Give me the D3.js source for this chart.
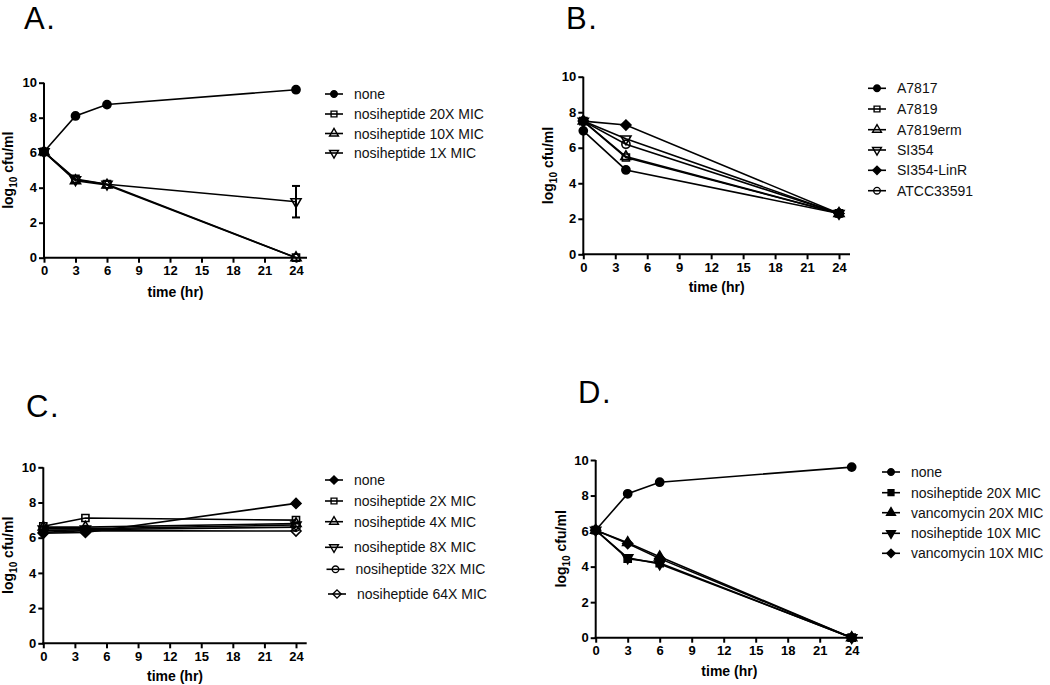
<!DOCTYPE html>
<html><head><meta charset="utf-8">
<script src="https://cdn.jsdelivr.net/npm/d3@7"></script>
<style>body{margin:0;background:#fff}svg{display:block}</style>
</head><body>
<svg id="c" width="1050" height="685"></svg>
<script>
// ---------- shared ticks ----------
const xTicks = [0, 3, 6, 9, 12, 15, 18, 21, 24];
const yTicks = [0, 2, 4, 6, 8, 10];

// ---------- Panel A ----------
const timesA = [0, 3, 6, 24];
const namesA = ["none", "nosiheptide 20X MIC", "nosiheptide 10X MIC", "nosiheptide 1X MIC"];
const A_none   = [6.05, 8.1, 8.75, 9.6];
const A_nosi20 = [6.05, 4.5, 4.2, 0];
const A_nosi10 = [6.05, 4.4, 4.15, 0];
const A_nosi1  = [6.05, 4.45, 4.2, 3.2];
const A_nosi1_errLow  = [null, null, null, 2.3];
const A_nosi1_errHigh = [null, null, null, 4.1];

// ---------- Panel B ----------
const timesB = [0, 4, 24];
const namesB = ["A7817", "A7819", "A7819erm", "SI354", "SI354-LinR", "ATCC33591"];
const B_A7817    = [6.95, 4.75, 2.3];
const B_A7819    = [7.5, 5.45, 2.3];
const B_A7819erm = [7.5, 5.5, 2.3];
const B_SI354    = [7.5, 6.5, 2.3];
const B_SI354Lin = [7.5, 7.28, 2.3];
const B_ATCC     = [7.5, 6.2, 2.3];

// ---------- Panel C ----------
const timesC = [0, 4, 24];
const namesC = ["none", "nosiheptide 2X MIC", "nosiheptide 4X MIC", "nosiheptide 8X MIC", "nosiheptide 32X MIC", "nosiheptide 64X MIC"];
const C_none   = [6.25, 6.3, 7.95];
const C_nosi2  = [6.65, 7.12, 7.0];
const C_nosi4  = [6.6, 6.6, 6.8];
const C_nosi8  = [6.5, 6.5, 6.72];
const C_nosi32 = [6.4, 6.45, 6.6];
const C_nosi64 = [6.3, 6.4, 6.38];

// ---------- Panel D ----------
const timesD = [0, 3, 6, 24];
const namesD = ["none", "nosiheptide 20X MIC", "vancomycin 20X MIC", "nosiheptide 10X MIC", "vancomycin 10X MIC"];
const D_none    = [6.05, 8.1, 8.75, 9.6];
const D_nosi20  = [6.05, 4.45, 4.2, 0];
const D_vanco20 = [6.05, 5.35, 4.55, 0];
const D_nosi10  = [6.05, 4.5, 4.15, 0];
const D_vanco10 = [6.05, 5.3, 4.45, 0];

// ---------- symbols ----------
const triDown = {draw(ctx, size){ const s=Math.sqrt(size/ (Math.sqrt(3)/4)); const h=s*Math.sqrt(3)/2;
  ctx.moveTo(-s/2,-h/3); ctx.lineTo(s/2,-h/3); ctx.lineTo(0,2*h/3); ctx.closePath(); }};
const triUp = {draw(ctx, size){ const s=Math.sqrt(size/ (Math.sqrt(3)/4)); const h=s*Math.sqrt(3)/2;
  ctx.moveTo(-s/2,h/3); ctx.lineTo(s/2,h/3); ctx.lineTo(0,-2*h/3); ctx.closePath(); }};
const diamond = {draw(ctx, size){ const r=Math.sqrt(size/2); ctx.moveTo(0,-r); ctx.lineTo(r,0); ctx.lineTo(0,r); ctx.lineTo(-r,0); ctx.closePath(); }};
const SYM = {circle: d3.symbolCircle, square: d3.symbolSquare, tri: triUp, tridown: triDown, diamond: diamond};

const svg = d3.select("#c");
const FONT = "'Liberation Sans', Arial, Helvetica, sans-serif";

function panel(cfg) {
  const g = svg.append("g");
  const x = d3.scaleLinear().domain([0, 24]).range([cfg.x0, cfg.x24]);
  const y = d3.scaleLinear().domain([0, 10]).range([cfg.y0, cfg.y10]);

  g.append("text").attr("x", cfg.titleX).attr("y", cfg.titleY)
    .style("font-family", FONT).style("font-size", "31px").style("letter-spacing", "1.5px").text(cfg.title);

  // axes
  const xa = g.append("g").attr("transform", `translate(0,${cfg.y0})`)
    .call(d3.axisBottom(x).tickValues(xTicks).tickSize(5).tickPadding(3).tickFormat(d3.format("d")));
  xa.select(".domain").remove();
  xa.append("line").attr("x1", x(0) - 1).attr("x2", cfg.xEnd).attr("y1", 0).attr("y2", 0)
    .attr("stroke", "#000").attr("stroke-width", 2);
  const ya = g.append("g").attr("transform", `translate(${cfg.x0},0)`)
    .call(d3.axisLeft(y).tickValues(yTicks).tickSize(5).tickPadding(2).tickFormat(d3.format("d")));
  ya.select(".domain").remove();
  ya.append("line").attr("x1", 0).attr("x2", 0).attr("y1", y(0) + 1).attr("y2", y(10))
    .attr("stroke", "#000").attr("stroke-width", 2);
  [xa, ya].forEach(a => {
    a.selectAll(".tick line").attr("stroke-width", 2);
    a.selectAll("text").style("font-family", FONT).style("font-size", "13px").style("font-weight", "bold").attr("fill", "#000");
  });

  // axis titles
  g.append("text").attr("x", (cfg.x0 + cfg.xEnd) / 2).attr("y", cfg.xlabY)
    .attr("text-anchor", "middle").style("font-family", FONT).style("font-size", "14px").style("font-weight", "bold")
    .text("time (hr)");
  const yl = g.append("text").attr("transform", `translate(${cfg.ylabX},${(cfg.y0 + cfg.y10) / 2}) rotate(-90)`)
    .attr("text-anchor", "middle").style("font-family", FONT).style("font-size", "14px").style("font-weight", "bold");
  yl.append("tspan").text("log");
  yl.append("tspan").attr("dy", 4).style("font-size", "10px").text("10");
  yl.append("tspan").attr("dy", -4).text(" cfu/ml");

  const line = d3.line().x(d => x(d[0])).y(d => y(d[1]));
  cfg.series.forEach(s => {
    const pts = s.times.map((t, i) => [t, s.values[i]]);
    g.append("path").attr("d", line(pts)).attr("fill", "none").attr("stroke", "#000").attr("stroke-width", 1.6);
  });
  // error bars
  cfg.series.forEach(s => {
    if (!s.lo) return;
    s.times.forEach((t, i) => {
      if (s.lo[i] == null) return;
      const cx = x(t);
      g.append("line").attr("x1", cx).attr("x2", cx).attr("y1", y(s.lo[i])).attr("y2", y(s.hi[i])).attr("stroke", "#000").attr("stroke-width", 2);
      [s.lo[i], s.hi[i]].forEach(v => g.append("line").attr("x1", cx - 4).attr("x2", cx + 4).attr("y1", y(v)).attr("y2", y(v)).attr("stroke", "#000").attr("stroke-width", 2));
    });
  });
  cfg.series.forEach(s => {
    const sym = d3.symbol().type(SYM[s.sym]).size(s.size || 52);
    s.times.forEach((t, i) => {
      g.append("path").attr("d", sym()).attr("transform", `translate(${x(t)},${y(s.values[i])})`)
        .attr("fill", s.filled ? "#000" : "none").attr("stroke", "#000").attr("stroke-width", 1.6);
    });
  });

  // legend
  cfg.series.forEach((s, i) => {
    const ly = cfg.leg.ys[i];
    const mx = cfg.leg.mx + (cfg.leg.dx ? cfg.leg.dx[i] : 0);
    g.append("line").attr("x1", mx - 9).attr("x2", mx + 9).attr("y1", ly).attr("y2", ly).attr("stroke", "#000").attr("stroke-width", 1.6);
    const sym = d3.symbol().type(SYM[s.sym]).size(34);
    g.append("path").attr("d", sym()).attr("transform", `translate(${mx},${ly})`)
      .attr("fill", s.filled ? "#000" : "none").attr("stroke", "#000").attr("stroke-width", 1.4);
    g.append("text").attr("x", cfg.leg.tx + (cfg.leg.dx ? cfg.leg.dx[i] : 0)).attr("y", ly + 5)
      .style("font-family", FONT).style("font-size", "14px").attr("fill", "#111").text(s.name);
  });
}

panel({
  title: "A.", titleX: 24, titleY: 29,
  x0: 44, x24: 296, xEnd: 307, y0: 257.7, y10: 82.7, xlabY: 297, ylabX: 13,
  leg: {mx: 334, tx: 354, ys: [94, 114, 133.5, 153]},
  series: [
    {name: namesA[0], times: timesA, values: A_none, sym: "circle", filled: true},
    {name: namesA[1], times: timesA, values: A_nosi20, sym: "square", filled: false, size: 50},
    {name: namesA[2], times: timesA, values: A_nosi10, sym: "tri", filled: false, size: 44},
    {name: namesA[3], times: timesA, values: A_nosi1, sym: "tridown", filled: false, size: 44, lo: A_nosi1_errLow, hi: A_nosi1_errHigh}
  ]
});

panel({
  title: "B.", titleX: 566, titleY: 29,
  x0: 583.3, x24: 839, xEnd: 850, y0: 254.3, y10: 76.7, xlabY: 292, ylabX: 553,
  leg: {mx: 877, tx: 897, ys: [88.3, 109, 129.7, 150, 170.3, 190.7]},
  series: [
    {name: namesB[0], times: timesB, values: B_A7817, sym: "circle", filled: true},
    {name: namesB[1], times: timesB, values: B_A7819, sym: "square", filled: false, size: 50},
    {name: namesB[2], times: timesB, values: B_A7819erm, sym: "tri", filled: false, size: 44},
    {name: namesB[3], times: timesB, values: B_SI354, sym: "tridown", filled: false, size: 44},
    {name: namesB[4], times: timesB, values: B_SI354Lin, sym: "diamond", filled: true, size: 50},
    {name: namesB[5], times: timesB, values: B_ATCC, sym: "circle", filled: false}
  ]
});

panel({
  title: "C.", titleX: 26, titleY: 417,
  x0: 43.3, x24: 296, xEnd: 306.7, y0: 643.3, y10: 467.3, xlabY: 681, ylabX: 13,
  leg: {mx: 334, tx: 354, dx: [0, 0, 0, 0, 1.5, 3], ys: [480, 501, 521.7, 547.3, 569.3, 594]},
  series: [
    {name: namesC[0], times: timesC, values: C_none, sym: "diamond", filled: true, size: 50},
    {name: namesC[1], times: timesC, values: C_nosi2, sym: "square", filled: false, size: 50},
    {name: namesC[2], times: timesC, values: C_nosi4, sym: "tri", filled: false, size: 44},
    {name: namesC[3], times: timesC, values: C_nosi8, sym: "tridown", filled: false, size: 44},
    {name: namesC[4], times: timesC, values: C_nosi32, sym: "circle", filled: false},
    {name: namesC[5], times: timesC, values: C_nosi64, sym: "diamond", filled: false, size: 50}
  ]
});

panel({
  title: "D.", titleX: 578, titleY: 403,
  x0: 595.7, x24: 851.7, xEnd: 863, y0: 637.7, y10: 460, xlabY: 676, ylabX: 566,
  leg: {mx: 891, tx: 911, ys: [472, 492.7, 512.7, 533.3, 553.3]},
  series: [
    {name: namesD[0], times: timesD, values: D_none, sym: "circle", filled: true},
    {name: namesD[1], times: timesD, values: D_nosi20, sym: "square", filled: true, size: 50},
    {name: namesD[2], times: timesD, values: D_vanco20, sym: "tri", filled: true, size: 44},
    {name: namesD[3], times: timesD, values: D_nosi10, sym: "tridown", filled: true, size: 44},
    {name: namesD[4], times: timesD, values: D_vanco10, sym: "diamond", filled: true, size: 50}
  ]
});
</script>
</body></html>
